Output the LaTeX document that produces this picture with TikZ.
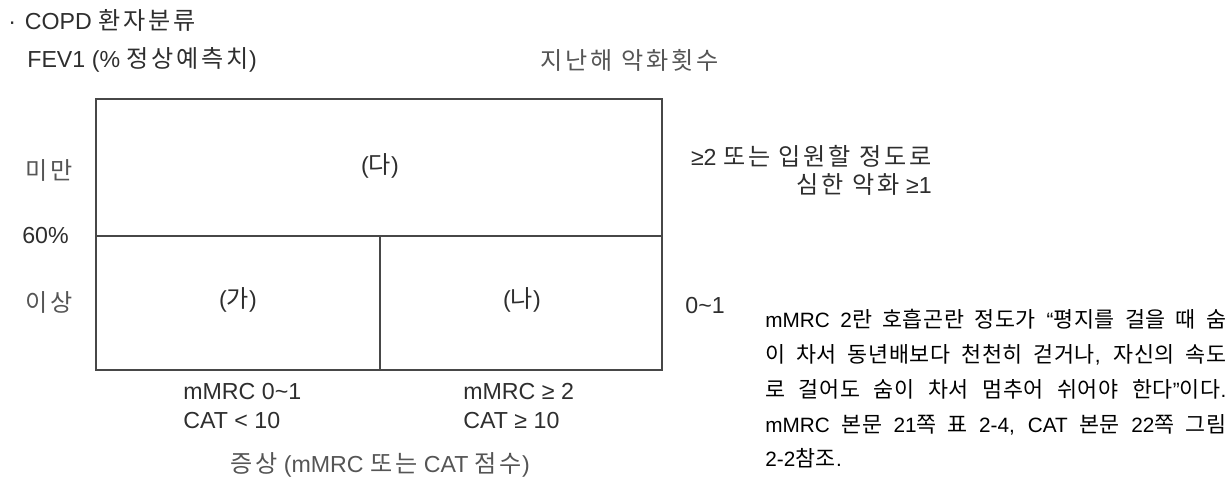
\documentclass[tikz,border=0pt]{standalone}
\usepackage{fontspec}
\setmainfont{Liberation Sans}
\newfontfamily\kofont{Noto Sans CJK KR}[Scale=1.04, LetterSpace=12]
\newfontfamily\knfont{Noto Sans CJK KR}[Scale=1.05, LetterSpace=3]
\newcommand\ko[1]{{\kofont #1}}
\newcommand\kn[1]{{\knfont #1}}
\definecolor{txtdark}{HTML}{2E2E2E}
\definecolor{txtgray}{HTML}{555555}
\definecolor{boxgray}{HTML}{474747}
\newcommand\fitline[1]{\makebox[9.22cm][s]{#1}}

\begin{document}
\begin{tikzpicture}[x=0.02cm, y=-0.02cm,
    lbl/.style={inner sep=0pt, text=txtdark, font=\fontsize{13.2}{16}\selectfont},
    kor/.style={lbl, text=txtgray},
    note/.style={inner sep=0pt, text=black, font=\fontsize{11.8}{19.8}\selectfont, align=left},
    boxline/.style={draw=boxgray, line width=1.1pt}]
  \useasboundingbox (0,0) rectangle (1230,485);
  % headings
  \node[lbl, anchor=west] (title) at (8,20) {·\hspace{5pt}COPD \ko{환자분류}};
  \node[lbl, anchor=west] (fev) at (27,60) {FEV1 (\% \ko{정상예측치})};
  \node[kor, anchor=west] (exac) at (540,60) {\ko{지난해 악화횟수}};
  % the grid
  \coordinate (nw) at (96,99);
  \coordinate (se) at (662,370);
  \coordinate (ml) at (96,236);
  \coordinate (mr) at (662,236);
  \coordinate (mt) at (380,236);
  \coordinate (mb) at (380,370);
  \draw[boxline] (nw) rectangle (se);
  \draw[boxline] (ml) -- (mr);
  \draw[boxline] (mt) -- (mb);
  \node[lbl] (grpC) at (380,166) {(\ko{다})};
  \node[lbl] (grpA) at (238,300) {(\ko{가})};
  \node[lbl] (grpB) at (522,300) {(\ko{나})};
  % left axis
  \node[kor, anchor=west] (below) at (25,170) {\ko{미만}};
  \node[lbl, anchor=west] (sixty) at (22,236) {60\%};
  \node[kor, anchor=west] (above) at (25,302) {\ko{이상}};
  % right axis
  \node[lbl, anchor=east, align=right] (many) at (932,170) {≥2 \ko{또는 입원할 정도로}\\\ko{심한 악화} ≥1};
  \node[lbl, anchor=west] (few) at (685,306) {0\textasciitilde 1};
  % bottom axis
  \node[lbl, anchor=west, align=left] (low) at (183,406) {mMRC 0\textasciitilde 1\\CAT < 10};
  \node[lbl, anchor=west, align=left] (high) at (463,406) {mMRC ≥ 2\\CAT ≥ 10};
  \node[kor] (symp) at (380,465) {\ko{증상} (mMRC \ko{또는} CAT \ko{점수})};
  % footnote
  \node[note, anchor=north west] (foot) at (765,309) {%
    \fitline{mMRC 2\kn{란 호흡곤란 정도가} “\kn{평지를 걸을 때 숨}}\\
    \fitline{\kn{이 차서 동년배보다 천천히 걷거나}, \kn{자신의 속도}}\\
    \fitline{\kn{로 걸어도 숨이 차서 멈추어 쉬어야 한다}”\kn{이다}.}\\
    \fitline{mMRC \kn{본문} 21\kn{쪽 표} 2-4, CAT \kn{본문} 22\kn{쪽 그림}}\\
    2-2\kn{참조}.};
\end{tikzpicture}
\end{document}
